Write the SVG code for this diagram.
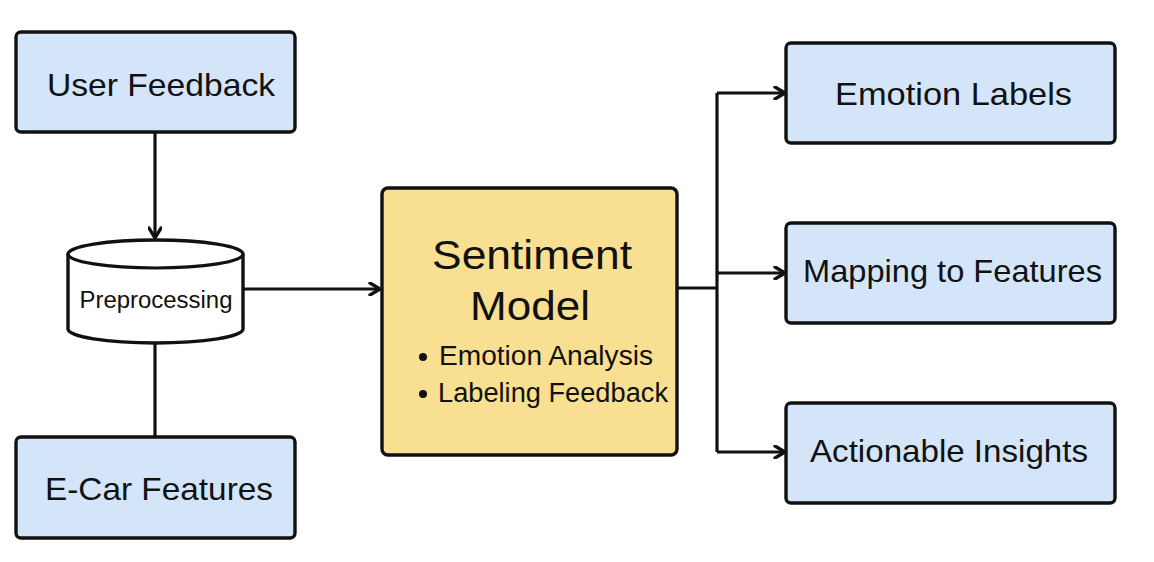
<svg xmlns="http://www.w3.org/2000/svg" width="1154" height="562" viewBox="0 0 1154 562">
<defs>
<style>
.box{fill:#d4e5fa;stroke:#111;stroke-width:3.4}
.main{fill:#f8df92;stroke:#111;stroke-width:3.4}
.cyl{fill:#fff;stroke:#111;stroke-width:3.4}
.t{font-family:"Liberation Sans",Arial,sans-serif;fill:#111;text-anchor:middle}
.lbl{font-size:32px}
.conn{fill:none;stroke:#111;stroke-width:3.2}
</style>
<marker id="arr" viewBox="0 0 14 14" refX="12" refY="7" markerWidth="14" markerHeight="14" markerUnits="userSpaceOnUse" orient="auto">
<path d="M2,1 L12,7 L2,13" fill="none" stroke="#111" stroke-width="3.4" stroke-linecap="round" stroke-linejoin="round"/>
</marker>
</defs>
<rect width="1154" height="562" fill="#fff"/>
<g id="connectors">
<line class="conn" x1="155" y1="133" x2="155" y2="238" marker-end="url(#arr)"/>
<line class="conn" x1="155" y1="343" x2="155" y2="437"/>
<line class="conn" x1="243" y1="289" x2="380" y2="289" marker-end="url(#arr)"/>
<polyline class="conn" points="677,288 717,288"/>
<line class="conn" x1="717" y1="93" x2="717" y2="452"/>
<line class="conn" x1="717" y1="93" x2="785" y2="93" marker-end="url(#arr)"/>
<line class="conn" x1="717" y1="273" x2="785" y2="273" marker-end="url(#arr)"/>
<line class="conn" x1="717" y1="452" x2="785" y2="452" marker-end="url(#arr)"/>
</g>
<g id="user-feedback">
<rect class="box" x="16" y="32" width="279" height="100" rx="5"/>
<text class="t lbl" x="161" y="96" textLength="228" lengthAdjust="spacingAndGlyphs">User Feedback</text>
</g>
<g id="preprocessing">
<path class="cyl" d="M68,254 A87.5,14 0 0 1 243,254 L243,329 A87.5,14 0 0 1 68,329 Z"/>
<path class="conn" d="M68,254 A87.5,14 0 0 0 243,254"/>
<text class="t" x="156" y="308" font-size="23" textLength="153" lengthAdjust="spacingAndGlyphs">Preprocessing</text>
</g>
<g id="e-car-features">
<rect class="box" x="16" y="437" width="279" height="101" rx="5"/>
<text class="t lbl" x="159" y="500" textLength="228" lengthAdjust="spacingAndGlyphs">E-Car Features</text>
</g>
<g id="sentiment-model">
<rect class="main" x="382" y="188" width="295" height="267" rx="6"/>
<text class="t" x="532" y="269" font-size="41" textLength="200" lengthAdjust="spacingAndGlyphs">Sentiment</text>
<text class="t" x="530" y="320" font-size="41" textLength="120" lengthAdjust="spacingAndGlyphs">Model</text>
<circle cx="423" cy="357" r="4" fill="#111"/>
<text class="t" x="546" y="365" font-size="27" textLength="214" lengthAdjust="spacingAndGlyphs">Emotion Analysis</text>
<circle cx="423" cy="394" r="4" fill="#111"/>
<text class="t" x="553" y="402" font-size="27" textLength="230" lengthAdjust="spacingAndGlyphs">Labeling Feedback</text>
</g>
<g id="emotion-labels">
<rect class="box" x="786" y="43" width="329" height="100" rx="5"/>
<text class="t lbl" x="953.5" y="105" textLength="237" lengthAdjust="spacingAndGlyphs">Emotion Labels</text>
</g>
<g id="mapping-to-features">
<rect class="box" x="786" y="223" width="329" height="100" rx="5"/>
<text class="t lbl" x="952.5" y="282" textLength="299" lengthAdjust="spacingAndGlyphs">Mapping to Features</text>
</g>
<g id="actionable-insights">
<rect class="box" x="786" y="403" width="329" height="100" rx="5"/>
<text class="t lbl" x="949" y="462" textLength="278" lengthAdjust="spacingAndGlyphs">Actionable Insights</text>
</g>
</svg>
